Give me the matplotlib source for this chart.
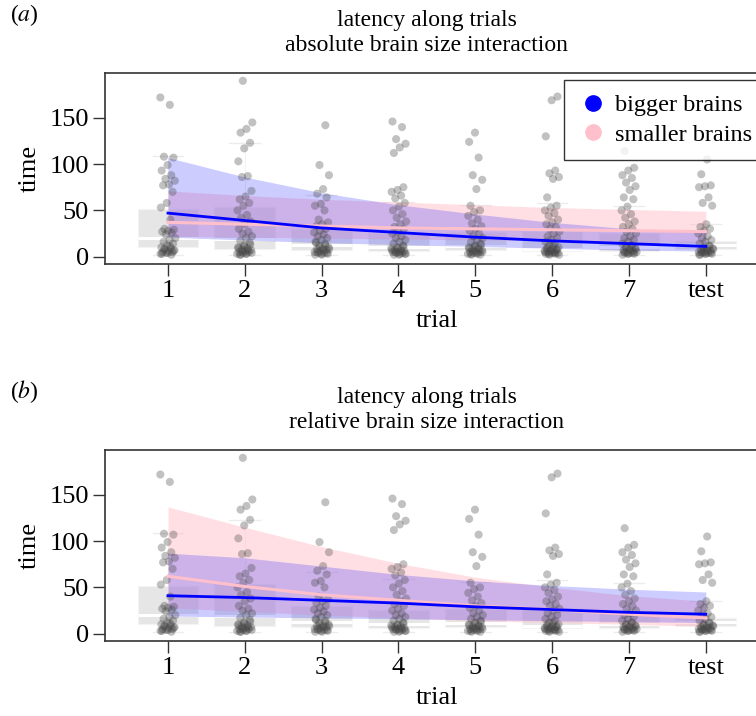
import numpy as np
import matplotlib
matplotlib.use("Agg")
import matplotlib.pyplot as plt
from matplotlib.lines import Line2D

plt.rcParams['font.family'] = ['Liberation Serif', 'DejaVu Serif']
plt.rcParams['mathtext.fontset'] = 'stix'

# trials and tick labels
trials = [1, 2, 3, 4, 5, 6, 7, 8]
trial_labels = ['1', '2', '3', '4', '5', '6', '7', 'test']

# latency observations per trial (same in both panels)
lat_t1 = [172, 164, 108, 107, 99, 93, 88, 84, 82, 78, 77, 70, 58, 53, 40, 30, 29, 28, 27, 26,
          24, 20, 18, 16, 14, 12, 10, 9, 8, 7, 6, 5, 5, 4, 3, 11, 8, 6, 4, 3, 2]
lat_t2 = [190, 145, 138, 134, 123, 117, 103, 87, 86, 71, 65, 62, 58, 55, 50, 45, 42, 38, 35, 30,
          27, 25, 22, 20, 17, 15, 12, 10, 9, 8, 7, 6, 5, 5, 4, 3, 3, 2, 13, 11, 9, 7, 6, 4, 3, 2]
lat_t3 = [142, 99, 88, 73, 68, 64, 57, 55, 50, 40, 37, 35, 33, 30, 28, 26, 24, 22, 20, 18,
          16, 14, 12, 10, 9, 8, 7, 6, 5, 4, 4, 3, 2, 15, 12, 10, 8, 7, 5, 4, 3, 2]
lat_t4 = [146, 140, 127, 122, 118, 112, 75, 72, 70, 66, 63, 58, 54, 50, 46, 42, 38, 35, 32, 30,
          27, 25, 22, 20, 18, 16, 14, 12, 10, 9, 8, 7, 6, 5, 5, 4, 4, 3, 3, 2, 11, 9, 7, 6, 5, 3, 2]
lat_t5 = [134, 124, 107, 88, 83, 73, 55, 50, 48, 44, 40, 36, 33, 30, 28, 25, 22, 20, 18, 16,
          14, 12, 10, 9, 8, 7, 6, 5, 5, 4, 3, 3, 2, 13, 11, 9, 8, 6, 5, 4, 3, 2]
lat_t6 = [173, 169, 130, 93, 90, 86, 84, 64, 55, 53, 50, 47, 44, 40, 37, 35, 32, 30, 27, 25,
          22, 20, 18, 16, 14, 12, 10, 9, 8, 7, 6, 6, 5, 5, 4, 4, 3, 3, 2, 2, 12, 10, 8, 7, 5, 4, 3]
lat_t7 = [114, 96, 93, 88, 85, 80, 76, 72, 64, 62, 54, 50, 46, 42, 38, 35, 32, 30, 27, 25,
          22, 20, 18, 16, 14, 12, 10, 9, 8, 7, 6, 5, 5, 4, 4, 3, 3, 2, 12, 10, 8, 7, 5, 4, 3]
lat_t8 = [105, 89, 77, 76, 75, 64, 58, 55, 35, 32, 30, 28, 25, 22, 20, 18, 16, 14, 12, 10,
          9, 8, 7, 6, 5, 5, 4, 4, 3, 3, 2, 11, 9, 8, 6, 5, 4, 3, 2]
latency = [lat_t1, lat_t2, lat_t3, lat_t4, lat_t5, lat_t6, lat_t7, lat_t8]

# box summaries per trial
box_q1 = [10, 8, 7.5, 6.5, 7, 6, 6, 8]
box_med = [20, 19, 13, 10, 11, 8, 10, 13]
box_q3 = [51, 54, 30, 26, 27, 28, 25, 17]
box_lo = [2, 2, 2, 2, 2, 2, 2, 2]
box_hi = [109, 123, 67, 59, 56, 58, 55, 35]

# model fits, panel a (absolute brain size)
a_big = [47, 39, 31, 26, 21, 17, 14, 11]
a_big_lo = [21, 18, 15, 13, 11, 9, 7, 6]
a_big_hi = [107, 86, 69, 56, 46, 37, 30, 26]
a_small = [37, 35, 33, 31, 30, 29, 28, 27]
a_small_lo = [22, 21, 20, 19, 18, 17, 16, 15]
a_small_hi = [71, 66, 62, 59, 56, 53, 51, 49]

# model fits, panel b (relative brain size)
b_big = [41, 39, 36, 33, 29, 26, 23, 21]
b_big_lo = [19, 18, 17, 16, 15, 14, 13, 12]
b_big_hi = [87, 82, 73, 64, 57, 52, 48, 45]
b_small = [62, 51, 42, 36, 30, 26, 21, 17]
b_small_lo = [28, 24, 20, 17, 14, 12, 10, 8]
b_small_hi = [137, 115, 94, 76, 61, 50, 41, 35]


def draw_panel(ax, big, big_lo, big_hi, small, small_lo, small_hi):
    stats = []
    for i in range(len(trials)):
        stats.append(dict(med=box_med[i], q1=box_q1[i], q3=box_q3[i],
                          whislo=box_lo[i], whishi=box_hi[i], fliers=[]))
    ax.bxp(stats, positions=trials, widths=0.79, patch_artist=True, showfliers=False,
           boxprops=dict(facecolor='#e6e6e6', edgecolor='#f4f4f4', linewidth=0.8),
           medianprops=dict(color='white', linewidth=2.2),
           whiskerprops=dict(color='#f3f3f3', linewidth=0.8),
           capprops=dict(color='#ececec', linewidth=1.0), capwidths=0.4,
           zorder=1, manage_ticks=False)

    ax.fill_between(trials, small_lo, small_hi, color='pink', alpha=0.5, lw=0, zorder=2)
    ax.fill_between(trials, big_lo, big_hi, color='blue', alpha=0.2, lw=0, zorder=2)

    for i, vals in enumerate(latency):
        k = np.arange(len(vals))
        jit = ((k * 0.618034 + i * 0.37) % 1.0 - 0.5) * 0.2
        ax.scatter(trials[i] + jit, vals, s=34, color='#444444', alpha=0.33,
                   edgecolors='none', zorder=3)

    ax.plot(trials, small, color='pink', lw=2.2, zorder=4)
    ax.plot(trials, big, color='blue', lw=2.0, zorder=4)

    ax.set_xlim(0.18, 8.82)
    ax.set_ylim(-8, 198.5)
    ax.set_xticks(trials)
    ax.set_xticklabels(trial_labels)
    ax.set_yticks([0, 50, 100, 150])
    ax.tick_params(labelsize=19, length=8.5, width=1, color='#333333', pad=3)
    for sp in ax.spines.values():
        sp.set_color('#333333')
        sp.set_linewidth(1.2)
    ax.set_xlabel('trial', fontsize=19, labelpad=6)
    ax.set_ylabel('time', fontsize=19, labelpad=6)


fig = plt.figure(figsize=(7.56, 7.16), dpi=100)
ax1 = fig.add_axes([0.1389, 0.6313, 0.878, 0.2668])
ax2 = fig.add_axes([0.1389, 0.1047, 0.878, 0.2668])

draw_panel(ax1, a_big, a_big_lo, a_big_hi, a_small, a_small_lo, a_small_hi)
draw_panel(ax2, b_big, b_big_lo, b_big_hi, b_small, b_small_lo, b_small_hi)

ax1.set_title('latency along trials\nabsolute brain size interaction', fontsize=17,
              linespacing=1.25, pad=16, x=0.485)
ax2.set_title('latency along trials\nrelative brain size interaction', fontsize=17,
              linespacing=1.25, pad=16, x=0.485)

handles = [Line2D([], [], marker='o', ls='none', color='blue', markersize=11),
           Line2D([], [], marker='o', ls='none', color='pink', markersize=11)]
leg = ax1.legend(handles, ['bigger brains', 'smaller brains'], loc='upper right',
                 bbox_to_anchor=(0.997, 0.965), fontsize=17.5, frameon=True, fancybox=False,
                 handletextpad=0.3, borderpad=0.6, labelspacing=0.3, handlelength=1.2,
                 borderaxespad=0.0)
leg.get_frame().set_edgecolor('black')
leg.get_frame().set_linewidth(1.0)

fig.text(0.013, 0.979, r'($\mathit{a}$)', fontsize=17, va='center')
fig.text(0.013, 0.453, r'($\mathit{b}$)', fontsize=17, va='center')

fig.savefig('out.png', dpi=100)
